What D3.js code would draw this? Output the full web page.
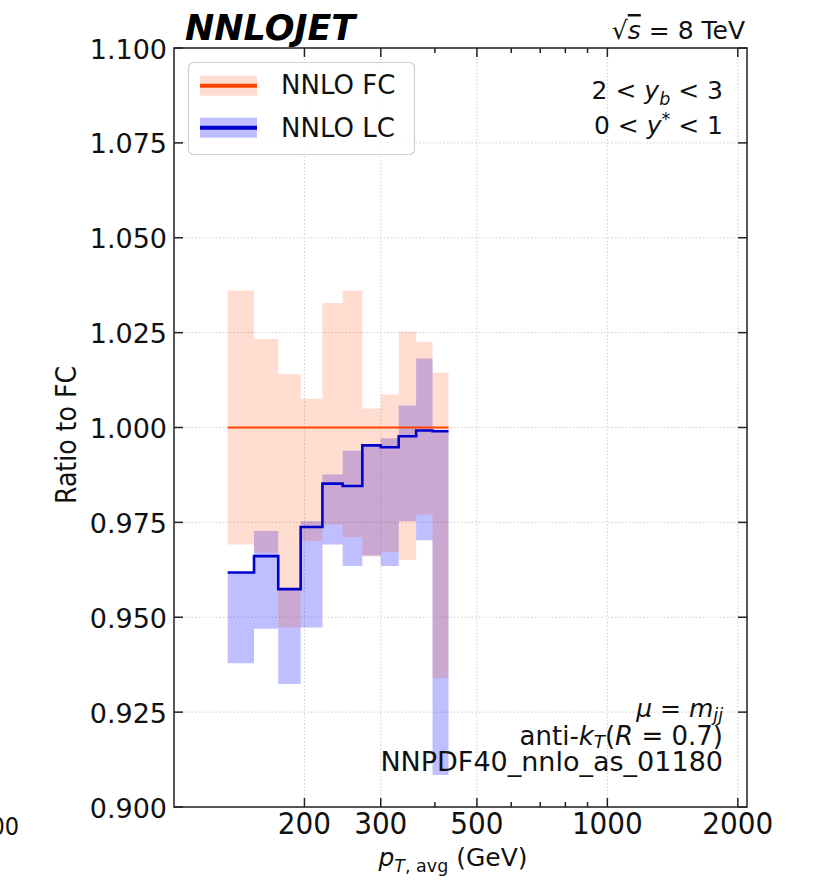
<!DOCTYPE html>
<html><head><meta charset="utf-8">
<script src="https://cdn.jsdelivr.net/npm/d3@7/dist/d3.min.js"></script>
<style>body{margin:0;background:#fff}</style>
</head><body><svg id="c" width="815" height="882"></svg>
<script>
// ---- data ----
const binEdges  = [133,153,174,196,220,245,272,300,330,362,395,430];
const fcCentral = [1,1,1,1,1,1,1,1,1,1,1];
const fcUpper   = [1.0361,1.0233,1.0140,1.0076,1.0328,1.0361,1.0050,1.0087,1.0252,1.0226,1.0144];
const fcLower   = [0.9692,0.9670,0.9473,0.9701,0.9745,0.9711,0.9660,0.9672,0.9651,0.9771,0.9339];
const lcCentral = [0.9618,0.9661,0.9574,0.9738,0.9852,0.9846,0.9953,0.9948,0.9977,0.9992,0.9990];
const lcUpper   = [0.9618,0.9727,0.9572,0.9753,0.9876,0.9939,0.9953,0.9972,1.0058,1.0182,0.9990];
const lcLower   = [0.9379,0.9470,0.9324,0.9473,0.9692,0.9635,0.9663,0.9635,0.9753,0.9703,0.9084];
const yTicks      = [0.9,0.925,0.95,0.975,1.0,1.025,1.05,1.075,1.1];
const yTickLabels = ["0.900","0.925","0.950","0.975","1.000","1.025","1.050","1.075","1.100"];
const xLabeledTicks = [200,300,500,1000,2000];
const xTickLabels   = ["200","300","500","1000","2000"];
const xMinorTicks   = [400,600,700,800,900];
const seriesNames = ["NNLO FC","NNLO LC"];

// ---- layout ----
const L=174,R=747,T=48,B=807;
const svg=d3.select("#c");
const x=d3.scaleLog().domain([100,2100]).range([L,R]);
const y=d3.scaleLinear().domain([0.9,1.1]).range([B,T]);
const FONT="'DejaVu Sans', sans-serif";
const CFONT="'DejaVu Sans Condensed','DejaVu Sans', sans-serif";
const ink="#111";

svg.append("defs").append("clipPath").attr("id","clip")
  .append("rect").attr("x",L).attr("y",T).attr("width",R-L).attr("height",B-T);

// grid
const grid=svg.append("g").attr("stroke","#cfcfcf").attr("stroke-width",1).attr("stroke-dasharray","1.5,2");
yTicks.forEach(v=>grid.append("line").attr("x1",L).attr("x2",R).attr("y1",y(v)).attr("y2",y(v)));
xLabeledTicks.forEach(v=>grid.append("line").attr("x1",x(v)).attr("x2",x(v)).attr("y1",T).attr("y2",B));

// step helpers
function stepPts(lo,hi,c){
  const pts=[];
  for(let i=0;i<binEdges.length-1;i++){
    pts.push({x:binEdges[i],lo:lo?lo[i]:0,hi:hi?hi[i]:0,c:c?c[i]:0});
    pts.push({x:binEdges[i+1],lo:lo?lo[i]:0,hi:hi?hi[i]:0,c:c?c[i]:0});
  }
  return pts;
}
const area=d3.area().x(d=>x(d.x)).y0(d=>y(d.lo)).y1(d=>y(d.hi));
const line=d3.line().x(d=>x(d.x)).y(d=>y(d.c));
const plot=svg.append("g").attr("clip-path","url(#clip)");
plot.append("path").attr("d",area(stepPts(lcLower,lcUpper))).attr("fill","rgba(0,0,255,0.25)");
plot.append("path").attr("d",area(stepPts(fcLower,fcUpper))).attr("fill","rgba(255,69,0,0.18)");
plot.append("path").attr("d",line(stepPts(null,null,fcCentral))).attr("fill","none").attr("stroke","#ff4500").attr("stroke-width",2.2);
plot.append("path").attr("d",line(stepPts(null,null,lcCentral))).attr("fill","none").attr("stroke","#0000cd").attr("stroke-width",2.6);

// frame & ticks
const ax=svg.append("g").attr("stroke","#222").attr("stroke-width",1.5);
ax.append("rect").attr("x",L).attr("y",T).attr("width",R-L).attr("height",B-T).attr("fill","none");
yTicks.forEach(v=>{
  ax.append("line").attr("x1",L).attr("x2",L+9).attr("y1",y(v)).attr("y2",y(v));
  ax.append("line").attr("x1",R).attr("x2",R-9).attr("y1",y(v)).attr("y2",y(v));
});
xLabeledTicks.forEach(v=>{
  ax.append("line").attr("x1",x(v)).attr("x2",x(v)).attr("y1",B).attr("y2",B-9);
  ax.append("line").attr("x1",x(v)).attr("x2",x(v)).attr("y1",T).attr("y2",T+9);
});
xMinorTicks.forEach(v=>{
  ax.append("line").attr("x1",x(v)).attr("x2",x(v)).attr("y1",B).attr("y2",B-5);
  ax.append("line").attr("x1",x(v)).attr("x2",x(v)).attr("y1",T).attr("y2",T+5);
});

// tick labels
yTicks.forEach((v,i)=>svg.append("text").attr("x",167).attr("y",y(v)+10.5).attr("text-anchor","end")
  .attr("font-family",FONT).attr("font-size",27).attr("fill",ink).text(yTickLabels[i]));
xLabeledTicks.forEach((v,i)=>svg.append("text").attr("x",x(v)).attr("y",834).attr("text-anchor","middle")
  .attr("font-family",CFONT).attr("font-stretch","condensed").attr("font-size",31).attr("fill",ink).text(xTickLabels[i]));
svg.append("text").attr("x",19).attr("y",835).attr("text-anchor","end")
  .attr("font-family",CFONT).attr("font-stretch","condensed").attr("font-size",25).attr("fill",ink).text("100");

// rich text helper
function rich(xp,yp,parts,anchor,size,family,subShift){
  const ss=subShift||0.22;
  const t=svg.append("text").attr("x",xp).attr("y",yp).attr("text-anchor",anchor||"start")
    .attr("font-family",family||FONT).attr("font-size",size).attr("fill",ink).attr("xml:space","preserve");
  let shift=0;
  parts.forEach(p=>{
    const s=t.append("tspan").text(p.t);
    let target=p.sub?ss*size:(p.sup?-0.38*size:0);
    s.attr("dy",target-shift); shift=target;
    if(p.it) s.attr("font-style","italic");
    if(p.sub||p.sup) s.attr("font-size",size*0.7);
    if(p.ol) s.style("text-decoration","overline");
  });
  return t;
}

// axis labels
rich(453,866,[{t:"p",it:true},{t:"T",it:true,sub:true},{t:", avg",sub:true},{t:" (GeV)"}],"middle",25,FONT);
svg.append("text").attr("transform","translate(76,435) rotate(-90)").attr("text-anchor","middle")
  .attr("font-family",CFONT).attr("font-stretch","condensed").attr("font-size",28).attr("fill",ink).text("Ratio to FC");

// title & annotations
svg.append("text").attr("x",185).attr("y",40).attr("font-family",FONT).attr("font-weight","bold")
  .attr("font-style","italic").attr("font-size",35).attr("fill","#000").text("NNLOJET");
rich(745,39,[{t:"√",},{t:"s",it:true,ol:true},{t:" = 8 TeV"}],"end",25);
rich(723,99,[{t:"2 < "},{t:"y",it:true},{t:"b",it:true,sub:true},{t:" < 3"}],"end",25);
rich(723,134,[{t:"0 < "},{t:"y",it:true},{t:"*",sup:true},{t:" < 1"}],"end",25);
rich(723,717,[{t:"μ",it:true},{t:" = "},{t:"m",it:true},{t:"jj",it:true,sub:true}],"end",25,FONT,0.14);
rich(723,745,[{t:"anti-"},{t:"k",it:true},{t:"T",it:true,sub:true},{t:"("},{t:"R",it:true},{t:" = 0.7)"}],"end",26,FONT,0.12);
rich(723,771,[{t:"NNPDF40_nnlo_as_01180"}],"end",27);

// legend
const lg=svg.append("g");
lg.append("rect").attr("x",188.5).attr("y",62.5).attr("width",226).attr("height",92).attr("rx",5)
  .attr("fill","rgba(255,255,255,0.85)").attr("stroke","#d0d0d0").attr("stroke-width",1.2);
const legItems=[{band:"rgba(255,69,0,0.18)",line:"#ff4500",cy:85.7,base:94.3},
                {band:"rgba(0,0,255,0.25)",line:"#0000cd",cy:127.7,base:136.7}];
legItems.forEach((it,i)=>{
  lg.append("rect").attr("x",200).attr("y",it.cy-10).attr("width",57).attr("height",20).attr("fill",it.band);
  lg.append("line").attr("x1",200).attr("x2",257).attr("y1",it.cy).attr("y2",it.cy).attr("stroke",it.line).attr("stroke-width",4);
  lg.append("text").attr("x",281).attr("y",it.base).attr("font-family",FONT).attr("font-size",26).attr("fill",ink).text(seriesNames[i]);
});
</script></body></html>
